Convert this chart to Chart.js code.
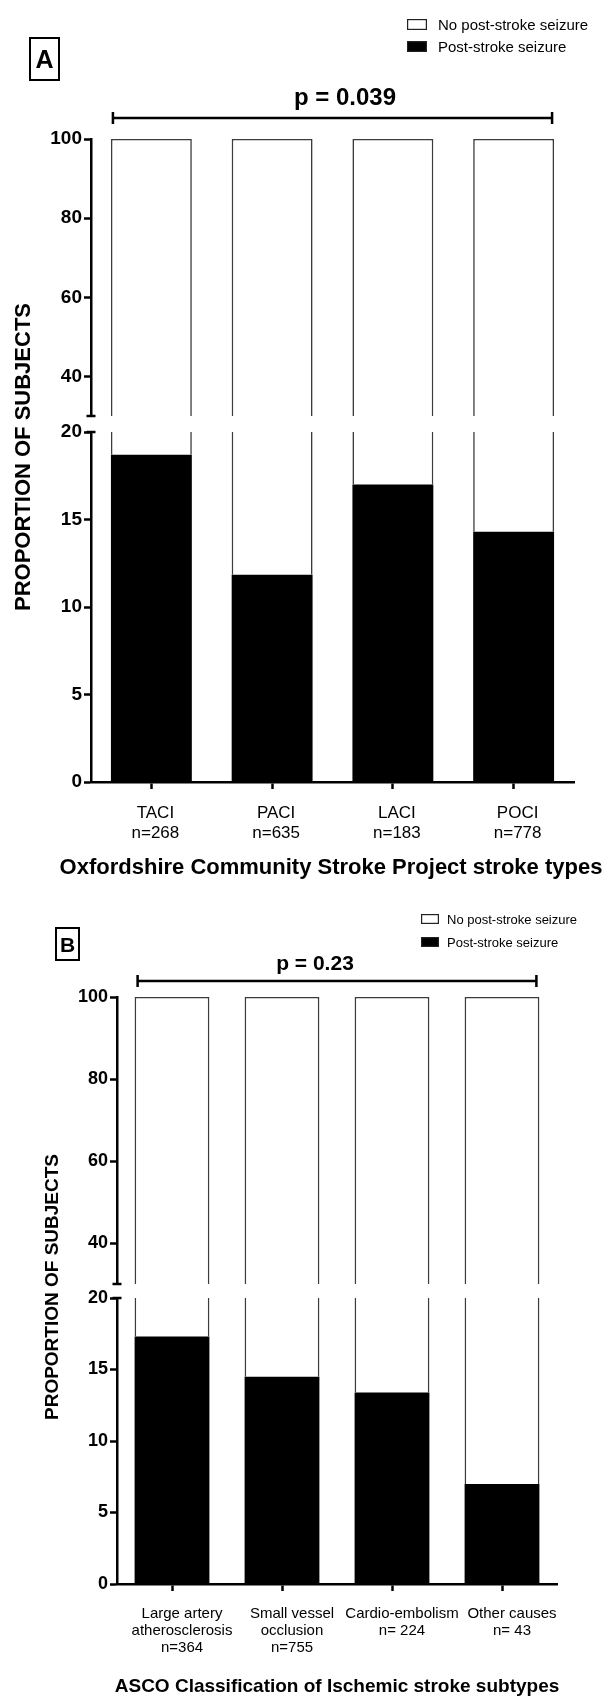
<!DOCTYPE html>
<html>
<head>
<meta charset="utf-8">
<script src="https://cdn.jsdelivr.net/npm/chart.js@4.4.0/dist/chart.umd.min.js"></script>
<style>
  html, body { margin: 0; padding: 0; background: #fff; }
  .panel { position: relative; width: 606px; }
  #panelA { height: 880px; }
  #panelB { height: 818px; }
</style>
</head>
<body>
<div class="panel" id="panelA"><canvas id="chartA"></canvas></div>
<div class="panel" id="panelB"><canvas id="chartB"></canvas></div>
<script>
// Panel A: Oxfordshire Community Stroke Project types
const labelsA = [['TACI', 'n=268'], ['PACI', 'n=635'], ['LACI', 'n=183'], ['POCI', 'n=778']];
const seizureA = [18.7, 11.85, 17.0, 14.3];

// Panel B: ASCO classification
const labelsB = [['Large artery', 'atherosclerosis', 'n=364'], ['Small vessel', 'occlusion', 'n=755'], ['Cardio-embolism', 'n= 224'], ['Other causes', 'n= 43']];
const seizureB = [17.3, 14.5, 13.4, 7.0];

// broken y axis: lower part 0-20, upper part 30-100
const lowerRange = [0, 20];
const upperRange = [30, 100];
const lowerTicks = [0, 5, 10, 15, 20];
const upperTicks = [40, 60, 80, 100];

const legendLabels = ['No post-stroke seizure', 'Post-stroke seizure'];
const pValues = ['p = 0.039', 'p = 0.23'];
const panelLetters = ['A', 'B'];
const xTitles = ['Oxfordshire Community Stroke Project stroke types', 'ASCO Classification of Ischemic stroke subtypes'];
const yTitle = 'PROPORTION OF SUBJECTS';

const FONT = "'Liberation Sans', Arial, Helvetica, sans-serif";
const OUTLINE = '#3c3c3c';

// Dibuja letra, leyenda, corchete del valor p, títulos y marcas del corte
function decorPlugin(cfg) {
    return {
        id: 'decor',
        afterDraw(chart) {
            const ctx = chart.ctx;
            const yTop = chart.scales.yTop;
            const yLow = chart.scales.yLow;
            ctx.save();
            ctx.fillStyle = '#000';
            ctx.strokeStyle = '#000';

            // marcas del corte del eje
            ctx.lineWidth = 2.5;
            const ax = yTop.right;
            [yTop.bottom, yLow.top].forEach(y => {
                ctx.beginPath();
                ctx.moveTo(ax - 4.5, y);
                ctx.lineTo(ax + 4.5, y);
                ctx.stroke();
            });

            // letra del panel
            ctx.lineWidth = 2;
            ctx.strokeRect(cfg.letterBox[0], cfg.letterBox[1], cfg.letterBox[2], cfg.letterBox[3]);
            ctx.font = 'bold ' + cfg.letterSize + 'px ' + FONT;
            ctx.textAlign = 'center';
            ctx.textBaseline = 'alphabetic';
            ctx.fillText(cfg.letter, cfg.letterBox[0] + cfg.letterBox[2] / 2, cfg.letterBase);

            // leyenda
            ctx.font = cfg.legendSize + 'px ' + FONT;
            ctx.textAlign = 'left';
            ctx.lineWidth = 1.2;
            ctx.strokeStyle = '#222';
            cfg.legendRows.forEach((base, i) => {
                const top = base - cfg.legendBox[1];
                ctx.fillStyle = i === 0 ? '#fff' : '#000';
                ctx.fillRect(cfg.legendX, top, cfg.legendBox[0], cfg.legendBox[1]);
                ctx.strokeRect(cfg.legendX + 0.6, top + 0.6, cfg.legendBox[0] - 1.2, cfg.legendBox[1] - 1.2);
                ctx.fillStyle = '#000';
                ctx.fillText(legendLabels[i], cfg.legendTextX, base);
            });

            // corchete del valor p
            const meta = chart.getDatasetMeta(2);
            const first = meta.data[0];
            const last = meta.data[meta.data.length - 1];
            const bx1 = first.x - first.width / 2 + cfg.bracketInset;
            const bx2 = last.x + last.width / 2 - cfg.bracketInset;
            ctx.strokeStyle = '#000';
            ctx.lineWidth = 2.5;
            ctx.beginPath();
            ctx.moveTo(bx1, cfg.bracketY);
            ctx.lineTo(bx2, cfg.bracketY);
            ctx.moveTo(bx1, cfg.bracketY - 6);
            ctx.lineTo(bx1, cfg.bracketY + 6);
            ctx.moveTo(bx2, cfg.bracketY - 6);
            ctx.lineTo(bx2, cfg.bracketY + 6);
            ctx.stroke();
            ctx.font = 'bold ' + cfg.pSize + 'px ' + FONT;
            ctx.textAlign = 'center';
            ctx.fillText(cfg.pText, cfg.pX, cfg.pBase);

            // título del eje x
            ctx.font = 'bold ' + cfg.xTitleSize + 'px ' + FONT;
            ctx.textBaseline = 'middle';
            ctx.fillText(cfg.xTitle, cfg.xTitleX, cfg.xTitleY);

            // título del eje y
            ctx.translate(cfg.yTitleX, cfg.yTitleY);
            ctx.rotate(-Math.PI / 2);
            ctx.font = 'bold ' + cfg.yTitleSize + 'px ' + FONT;
            ctx.fillText(yTitle, 0, 0);
            ctx.restore();
        }
    };
}

function makePanel(canvasId, labels, seizure, cfg) {
    const bw = 1.6;
    const common = {
        grouped: false,
        categoryPercentage: 1,
        barPercentage: cfg.barPct
    };
    const yCommon = {
        type: 'linear',
        position: 'left',
        stack: 'y',
        grid: { drawOnChartArea: false, tickLength: 7, tickWidth: 2.5, tickColor: '#000', color: '#000' },
        border: { color: '#000', width: 2.5 },
        ticks: { color: '#000', padding: 2, font: { family: FONT, size: cfg.yTickSize, weight: 'bold' } },
        afterFit: s => { s.width = cfg.yAxisW; }
    };

    return new Chart(document.getElementById(canvasId), {
        type: 'bar',
        data: {
            labels: labels,
            datasets: [
                Object.assign({
                    label: legendLabels[1],
                    data: seizure.map(v => [lowerRange[0], v]),
                    yAxisID: 'yLow',
                    backgroundColor: '#000',
                    borderWidth: 0
                }, common),
                Object.assign({
                    label: legendLabels[0],
                    data: seizure.map(v => [v, lowerRange[1]]),
                    yAxisID: 'yLow',
                    backgroundColor: '#fff',
                    borderColor: OUTLINE,
                    borderSkipped: false,
                    borderWidth: { left: bw, right: bw, top: 0, bottom: 0 }
                }, common),
                Object.assign({
                    label: legendLabels[0],
                    data: seizure.map(() => [upperRange[0], upperRange[1]]),
                    yAxisID: 'yTop',
                    backgroundColor: '#fff',
                    borderColor: OUTLINE,
                    borderSkipped: false,
                    borderWidth: { left: bw, right: bw, top: bw, bottom: 0 }
                }, common)
            ]
        },
        options: {
            responsive: true,
            maintainAspectRatio: false,
            devicePixelRatio: 1,
            animation: false,
            layout: { padding: cfg.padding },
            plugins: {
                legend: { display: false },
                tooltip: { enabled: false }
            },
            scales: {
                x: {
                    type: 'category',
                    offset: true,
                    grid: { drawOnChartArea: false, offset: false, tickLength: 7, tickWidth: 2.5, tickColor: '#000', color: '#000' },
                    border: { color: '#000', width: 2.5 },
                    ticks: {
                        color: '#000',
                        autoSkip: false,
                        maxRotation: 0,
                        minRotation: 0,
                        padding: cfg.xTickPad,
                        labelOffset: cfg.labelOffset,
                        font: { family: FONT, size: cfg.xTickSize, lineHeight: cfg.xTickLine + 'px' }
                    },
                    afterFit: s => { s.height = cfg.xAxisH; }
                },
                yTop: Object.assign({}, yCommon, {
                    weight: 3,
                    stackWeight: cfg.weights[0],
                    min: upperRange[0],
                    max: upperRange[1],
                    afterBuildTicks: s => { s.ticks = upperTicks.map(v => ({ value: v })); }
                }),
                yGap: {
                    type: 'linear',
                    position: 'left',
                    stack: 'y',
                    weight: 2,
                    stackWeight: cfg.weights[1],
                    min: 0,
                    max: 1,
                    grid: { display: false },
                    border: { display: false },
                    ticks: { display: false },
                    afterFit: s => { s.width = cfg.yAxisW; }
                },
                yLow: Object.assign({}, yCommon, {
                    weight: 1,
                    stackWeight: cfg.weights[2],
                    min: lowerRange[0],
                    max: lowerRange[1],
                    afterBuildTicks: s => { s.ticks = lowerTicks.map(v => ({ value: v })); }
                })
            }
        },
        plugins: [decorPlugin(cfg)]
    });
}

makePanel('chartA', labelsA, seizureA, {
    padding: { left: 31, right: 32, top: 139, bottom: 0 },
    yAxisW: 60,
    xAxisH: 98,
    weights: [277, 16, 350],
    barPct: 0.67,
    yTickSize: 19,
    xTickSize: 17,
    xTickLine: 20,
    xTickPad: 14,
    labelOffset: 4,
    letter: panelLetters[0],
    letterBox: [30, 38, 29, 42],
    letterSize: 25,
    letterBase: 68,
    legendX: 407,
    legendTextX: 438,
    legendBox: [20, 11],
    legendRows: [30, 52],
    legendSize: 15,
    bracketY: 118,
    bracketInset: 2,
    pText: pValues[0],
    pX: 345,
    pBase: 105,
    pSize: 24,
    xTitle: xTitles[0],
    xTitleX: 331,
    xTitleY: 868,
    xTitleSize: 22,
    yTitleX: 24,
    yTitleY: 457,
    yTitleSize: 22
});

makePanel('chartB', labelsB, seizureB, {
    padding: { left: 57, right: 49, top: 117, bottom: 0 },
    yAxisW: 60,
    xAxisH: 114,
    weights: [287, 14, 286],
    barPct: 0.68,
    yTickSize: 18,
    xTickSize: 15,
    xTickLine: 17,
    xTickPad: 14,
    labelOffset: 10,
    letter: panelLetters[1],
    letterBox: [56, 48, 23, 32],
    letterSize: 21,
    letterBase: 71.5,
    legendX: 421,
    legendTextX: 447,
    legendBox: [18, 10],
    legendRows: [44, 67],
    legendSize: 13,
    bracketY: 101,
    bracketInset: 3,
    pText: pValues[1],
    pX: 315,
    pBase: 90,
    pSize: 21,
    xTitle: xTitles[1],
    xTitleX: 337,
    xTitleY: 807,
    xTitleSize: 19,
    yTitleX: 53,
    yTitleY: 407,
    yTitleSize: 19
});
</script>
</body>
</html>
